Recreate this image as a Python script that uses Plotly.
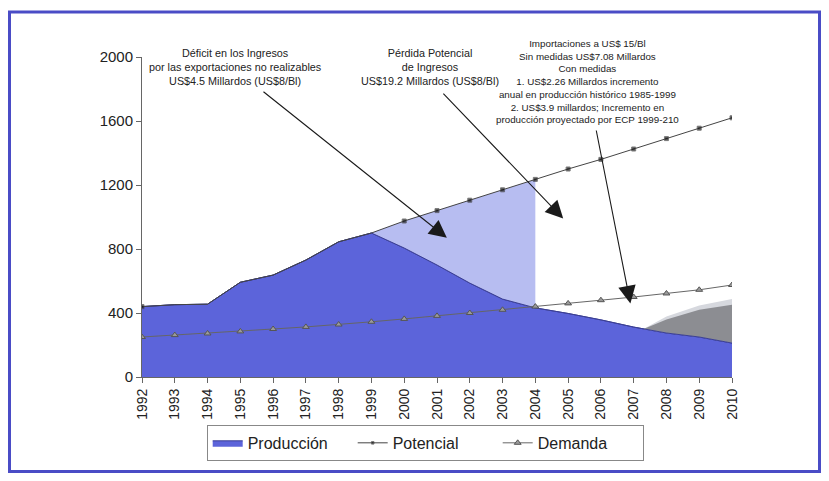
import plotly.graph_objects as go

years = list(range(1992, 2011))
produccion = [440, 452, 455, 592, 637, 731, 845, 900, 806, 700, 587, 487, 432, 397, 357, 312, 275, 250, 212]
# potencial follows production until 1999, then projected growth
potencial = [440, 452, 455, 592, 637, 731, 845, 900, 975, 1040, 1105, 1170, 1235, 1300, 1360, 1425, 1490, 1555, 1620]
pot_marker = [1, 0, 0, 0, 0, 0, 0, 0, 1, 1, 1, 1, 1, 1, 1, 1, 1, 1, 1]
demanda = [250, 262, 272, 285, 300, 313, 328, 345, 363, 382, 400, 420, 440, 460, 480, 500, 522, 545, 575]

# import-substitution measures shaded from 2007
med_years = [2007.3, 2008, 2009, 2010]
med_base = [300, 275, 250, 212]
medida_2 = [300, 360, 420, 452]
medida_1 = [300, 378, 447, 488]

ytick_vals = [0, 400, 800, 1200, 1600, 2000]

# page body has an 8px margin, so the figure is sized to fit inside it
W, H = 813, 465
L, R, T, B = 134, 89, 49, 96
pw, ph = W - L - R, H - T - B

fig = go.Figure()

fig.add_trace(go.Scatter(x=years, y=produccion, name="Producción", mode="lines",
                         fill="tozeroy", fillcolor="#5c64da",
                         line=dict(color="#3b3f96", width=1), legendrank=1))

# lost potential 1999-2004
i0, i1 = years.index(1999), years.index(2004)
px_ = years[i0:i1 + 1] + years[i0:i1 + 1][::-1]
py_ = potencial[i0:i1 + 1] + produccion[i0:i1 + 1][::-1]
fig.add_trace(go.Scatter(x=px_, y=py_, fill="toself", fillcolor="#b7bdf1",
                         mode="lines", line=dict(width=0), showlegend=False, hoverinfo="skip"))

fig.add_trace(go.Scatter(x=med_years + med_years[::-1], y=medida_1 + med_base[::-1],
                         fill="toself", fillcolor="#d6d8de", mode="lines",
                         line=dict(width=0), showlegend=False, hoverinfo="skip"))
fig.add_trace(go.Scatter(x=med_years + med_years[::-1], y=medida_2 + med_base[::-1],
                         fill="toself", fillcolor="#8c8d92", mode="lines",
                         line=dict(width=0), showlegend=False, hoverinfo="skip"))
fig.add_trace(go.Scatter(x=years, y=produccion, mode="lines", showlegend=False,
                         line=dict(color="#3b3f96", width=1), hoverinfo="skip"))

fig.add_trace(go.Scatter(x=years, y=demanda, name="Demanda", mode="lines+markers",
                         line=dict(color="#666666", width=1), legendrank=3,
                         marker=dict(symbol="triangle-up", size=6, color="#9a9a9a",
                                     line=dict(color="#555555", width=1))))
fig.add_trace(go.Scatter(x=years, y=potencial, name="Potencial", mode="lines+markers",
                         line=dict(color="#444444", width=1), legendrank=2,
                         marker=dict(symbol="square", size=[4 * m for m in pot_marker],
                                     color="#111111")))

notes = [
    (1994.84, 1.0375, 10.8, "Déficit en los Ingresos<br>por las exportaciones no realizables<br>US$4.5 Millardos (US$8/Bl)"),
    (2000.79, 1.0375, 10.8, "Pérdida Potencial<br>de Ingresos<br>US$19.2 Millardos (US$8/Bl)"),
    (2005.58, 1.066, 9.8, "Importaciones a US$ 15/Bl<br>Sin medidas US$7.08 Millardos<br>Con medidas<br>"
                          "1. US$2.26 Millardos incremento<br>anual en producción histórico 1985-1999<br>"
                          "2. US$3.9 millardos; Incremento en<br>producción proyectado por ECP 1999-210"),
]
for x, y, fs, t in notes:
    fig.add_annotation(x=x, y=y, xref="x", yref="paper", text=t, showarrow=False,
                       font=dict(family="Liberation Sans, Arial", size=fs, color="#222222"),
                       xanchor="center", yanchor="top", align="center")

arrows = [
    (1995.66, 1790, 2001.3, 870),
    (2001.15, 1780, 2004.85, 990),
    (2005.85, 1550, 2006.9, 460),
]
for ax, ay, x, y in arrows:
    fig.add_annotation(x=x, y=y, ax=ax, ay=ay, xref="x", yref="y", axref="x", ayref="y",
                       text="", showarrow=True, arrowhead=2, arrowsize=3.2,
                       arrowwidth=1.1, arrowcolor="#1a1a1a")

# outer blue frame (figure pixel coords)
def px2paper(xp, yp):
    return (xp - L) / pw, (H - B - yp) / ph

x0, y0 = px2paper(1.5, 463.5)
x1, y1 = px2paper(811.5, 4)
fig.add_shape(type="rect", xref="paper", yref="paper", x0=x0, y0=y0, x1=x1, y1=y1,
              line=dict(color="#4a4cc6", width=3), layer="below")

fig.update_layout(
    width=W, height=H,
    margin=dict(l=L, r=R, t=T, b=B, autoexpand=False),
    paper_bgcolor="white", plot_bgcolor="white",
    font=dict(family="Liberation Sans, Arial", color="#222222"),
    showlegend=True,
    legend=dict(orientation="h", x=0.48, y=-0.206, xanchor="center", yanchor="middle",
                bordercolor="#888888", borderwidth=1, font=dict(size=16),
                entrywidth=100, itemwidth=30),
    xaxis=dict(range=[1992, 2010], tickmode="array", tickvals=years,
               ticktext=[str(y) for y in years], tickangle=-90,
               ticks="outside", ticklen=5, tickcolor="#666666",
               showline=True, linecolor="#666666", linewidth=1,
               showgrid=False, zeroline=False, tickfont=dict(size=14)),
    yaxis=dict(range=[0, 2000], tickvals=ytick_vals, ticks="outside", ticklen=5,
               tickcolor="#666666", showline=True, linecolor="#666666", linewidth=1,
               showgrid=False, zeroline=False, tickfont=dict(size=15)),
)

fig.write_html("out.html")
